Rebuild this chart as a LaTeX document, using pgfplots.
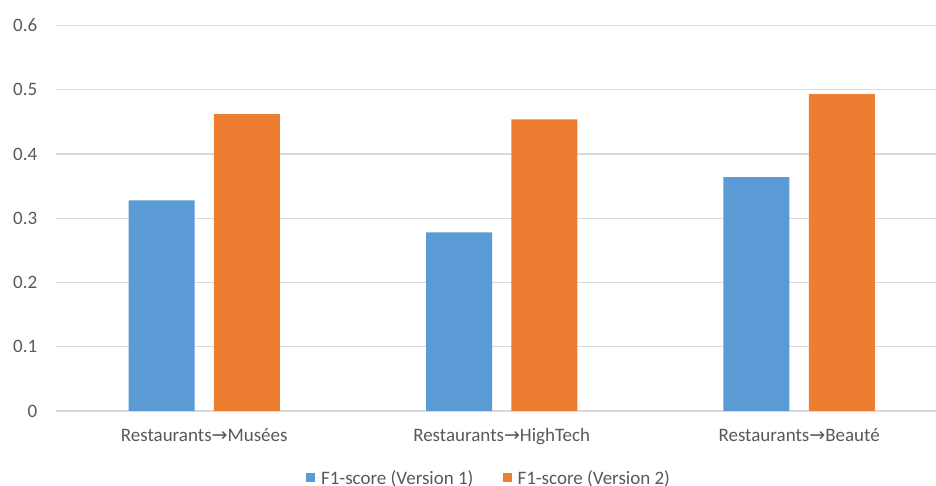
\documentclass[border=0pt]{standalone}
\usepackage{pgfplots}
\pgfplotsset{compat=1.18}
\usepackage{fontspec}
\setmainfont{Carlito}
\newfontfamily\arrowfont{DejaVu Sans}
\definecolor{barblue}{HTML}{5B9BD5}
\definecolor{barorange}{HTML}{ED7D31}
\definecolor{txtgray}{HTML}{595959}
\definecolor{gridgray}{HTML}{D9D9D9}
\newcommand{\arr}{{\arrowfont\fontsize{19}{23}\selectfont →}}
\begin{document}
\begin{tikzpicture}
\useasboundingbox (0,0) rectangle (936pt,486pt);
\begin{axis}[
  at={(55.5pt,75pt)}, anchor=south west,
  scale only axis,
  width=880.5pt, height=385.5pt,
  xmin=-0.5, xmax=2.46,
  ymin=0, ymax=0.6,
  axis lines*=left,
  axis line style={draw=none},
  major tick length=0pt,
  ytick={0,0.1,0.2,0.3,0.4,0.5,0.6},
  yticklabels={0,0.1,0.2,0.3,0.4,0.5,0.6},
  xtick={0,1,2},
  xticklabels={Restaurants\arr Musées, Restaurants\arr HighTech, Restaurants\arr Beauté},
  ymajorgrids,
  grid style={gridgray, line width=1.3pt},
  tick label style={font=\fontsize{19}{23}\selectfont, text=txtgray, inner sep=0pt},
  yticklabel style={anchor=east, xshift=-18pt},
  xticklabel style={anchor=north, yshift=-17.5pt},
  ybar,
  bar width=66pt,
  legend columns=2,
  legend style={at={(rel axis cs:0.4918,-0.1738)}, anchor=center, draw=none,
    font=\fontsize{19}{23}\selectfont, text=txtgray,
    nodes={inner xsep=1pt, inner ysep=3pt},
    /tikz/every odd column/.append style={column sep=0pt},
    /tikz/every even column/.append style={column sep=28pt}},
  legend image code/.code={\fill[#1] (0pt,-4.5pt) rectangle (9pt,4.5pt); \path (0pt,0pt) -- (14pt,0pt);},
  legend cell align=left,
]
\addplot[fill=barblue, draw=none, bar shift=-42.7pt] coordinates {(0,0.328) (1,0.278) (2,0.364)};
\addplot[fill=barorange, draw=none, bar shift=42.7pt] coordinates {(0,0.462) (1,0.454) (2,0.493)};
\legend{F1-score (Version 1), F1-score (Version 2)}
\end{axis}
\end{tikzpicture}
\end{document}
